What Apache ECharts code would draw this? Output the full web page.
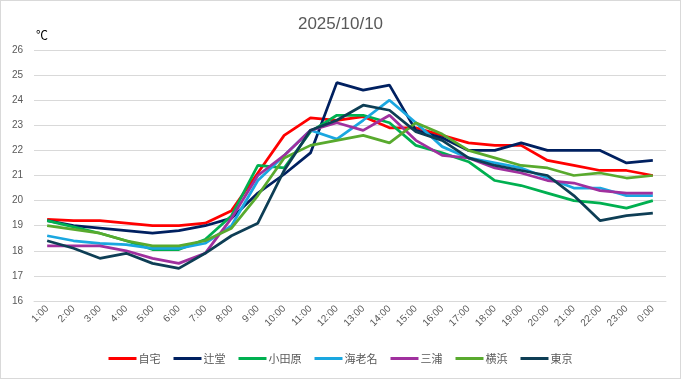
<!DOCTYPE html>
<html><head><meta charset="utf-8">
<script src="https://cdn.jsdelivr.net/npm/echarts@6/dist/echarts.min.js"></script>
<style>html,body{margin:0;padding:0;background:#fff}#c{width:679px;height:377px;border:1px solid #d9d9d9}</style>
</head><body><div id="c"></div>
<script>
const categories = ['1:00','2:00','3:00','4:00','5:00','6:00','7:00','8:00','9:00','10:00','11:00','12:00','13:00','14:00','15:00','16:00','17:00','18:00','19:00','20:00','21:00','22:00','23:00','0:00'];
const seriesNames = ['自宅','辻堂','小田原','海老名','三浦','横浜','東京'];
const jitaku   = [19.25,19.2,19.2,19.1,19.0,19.0,19.1,19.6,21.1,22.6,23.3,23.2,23.35,22.9,22.9,22.6,22.3,22.2,22.2,21.6,21.4,21.2,21.2,21.0];
const tsujido  = [19.2,19.0,18.9,18.8,18.7,18.8,19.0,19.3,20.3,21.05,21.9,24.7,24.4,24.6,22.8,22.5,22.0,22.0,22.3,22.0,22.0,22.0,21.5,21.6];
const odawara  = [19.2,18.95,18.7,18.4,18.05,18.05,18.45,19.4,21.4,21.3,22.75,23.4,23.4,23.1,22.2,21.9,21.55,20.8,20.6,20.3,20.0,19.9,19.7,20.0];
const ebina    = [18.6,18.4,18.3,18.25,18.1,18.1,18.3,19.0,20.8,21.8,22.8,22.45,23.2,24.0,23.1,22.15,21.7,21.5,21.3,20.9,20.5,20.5,20.2,20.2];
const miura    = [18.2,18.2,18.2,18.0,17.7,17.5,17.9,19.3,21.0,21.8,22.8,23.1,22.8,23.4,22.4,21.8,21.7,21.3,21.1,20.8,20.7,20.4,20.3,20.3];
const yokohama = [19.0,18.85,18.7,18.4,18.2,18.2,18.4,18.9,20.2,21.7,22.2,22.4,22.6,22.3,23.1,22.65,22.0,21.7,21.4,21.3,21.0,21.1,20.9,21.0];
const tokyo    = [18.4,18.1,17.7,17.9,17.5,17.3,17.9,18.6,19.1,21.2,22.8,23.2,23.8,23.6,22.75,22.4,21.7,21.4,21.2,21.0,20.2,19.2,19.4,19.5];
const yTicks = {min:16,max:26,interval:1};
const colors = ['#FF0000','#002060','#00B050','#1AA7E0','#A0309E','#59AA2E','#0E3E55'];
const allData = [jitaku,tsujido,odawara,ebina,miura,yokohama,tokyo];

const chart = echarts.init(document.getElementById('c'));
chart.setOption({
  animation:false,
  color:colors,
  title:{text:'2025/10/10',left:'center',top:10,textStyle:{fontSize:17,fontWeight:'normal',color:'#595959',fontFamily:'Liberation Sans, Arial, sans-serif'}},
  legend:{bottom:9,left:'center',itemWidth:28,itemHeight:3,itemGap:13,icon:'rect',
    textStyle:{fontSize:11,color:'#595959',padding:[0,0,0,-3],fontFamily:'Noto Sans CJK JP'},
    data:seriesNames},
  grid:{left:33,right:14,top:49,bottom:77,containLabel:false},
  xAxis:{type:'category',data:categories,boundaryGap:true,
    axisLine:{show:true,lineStyle:{color:'#d9d9d9'}},axisTick:{show:false},
    axisLabel:{rotate:45,fontSize:10,color:'#595959',margin:6,interval:0,fontFamily:'Liberation Sans, Arial, sans-serif'}},
  yAxis:{type:'value',min:yTicks.min,max:yTicks.max,interval:yTicks.interval,
    name:'℃',nameLocation:'end',nameGap:9,
    nameTextStyle:{align:'left',color:'#000',fontSize:12,padding:[0,0,0,2],fontFamily:'Noto Sans CJK JP'},
    axisLine:{show:false},axisTick:{show:false},
    splitLine:{lineStyle:{color:'#d9d9d9',width:1}},
    axisLabel:{fontSize:10,color:'#595959',margin:11,fontFamily:'Liberation Sans, Arial, sans-serif'}},
  series:seriesNames.map((n,i)=>({name:n,type:'line',data:allData[i],showSymbol:false,symbol:'none',
    lineStyle:{width:2.75},z:2+i}))
});
</script></body></html>
